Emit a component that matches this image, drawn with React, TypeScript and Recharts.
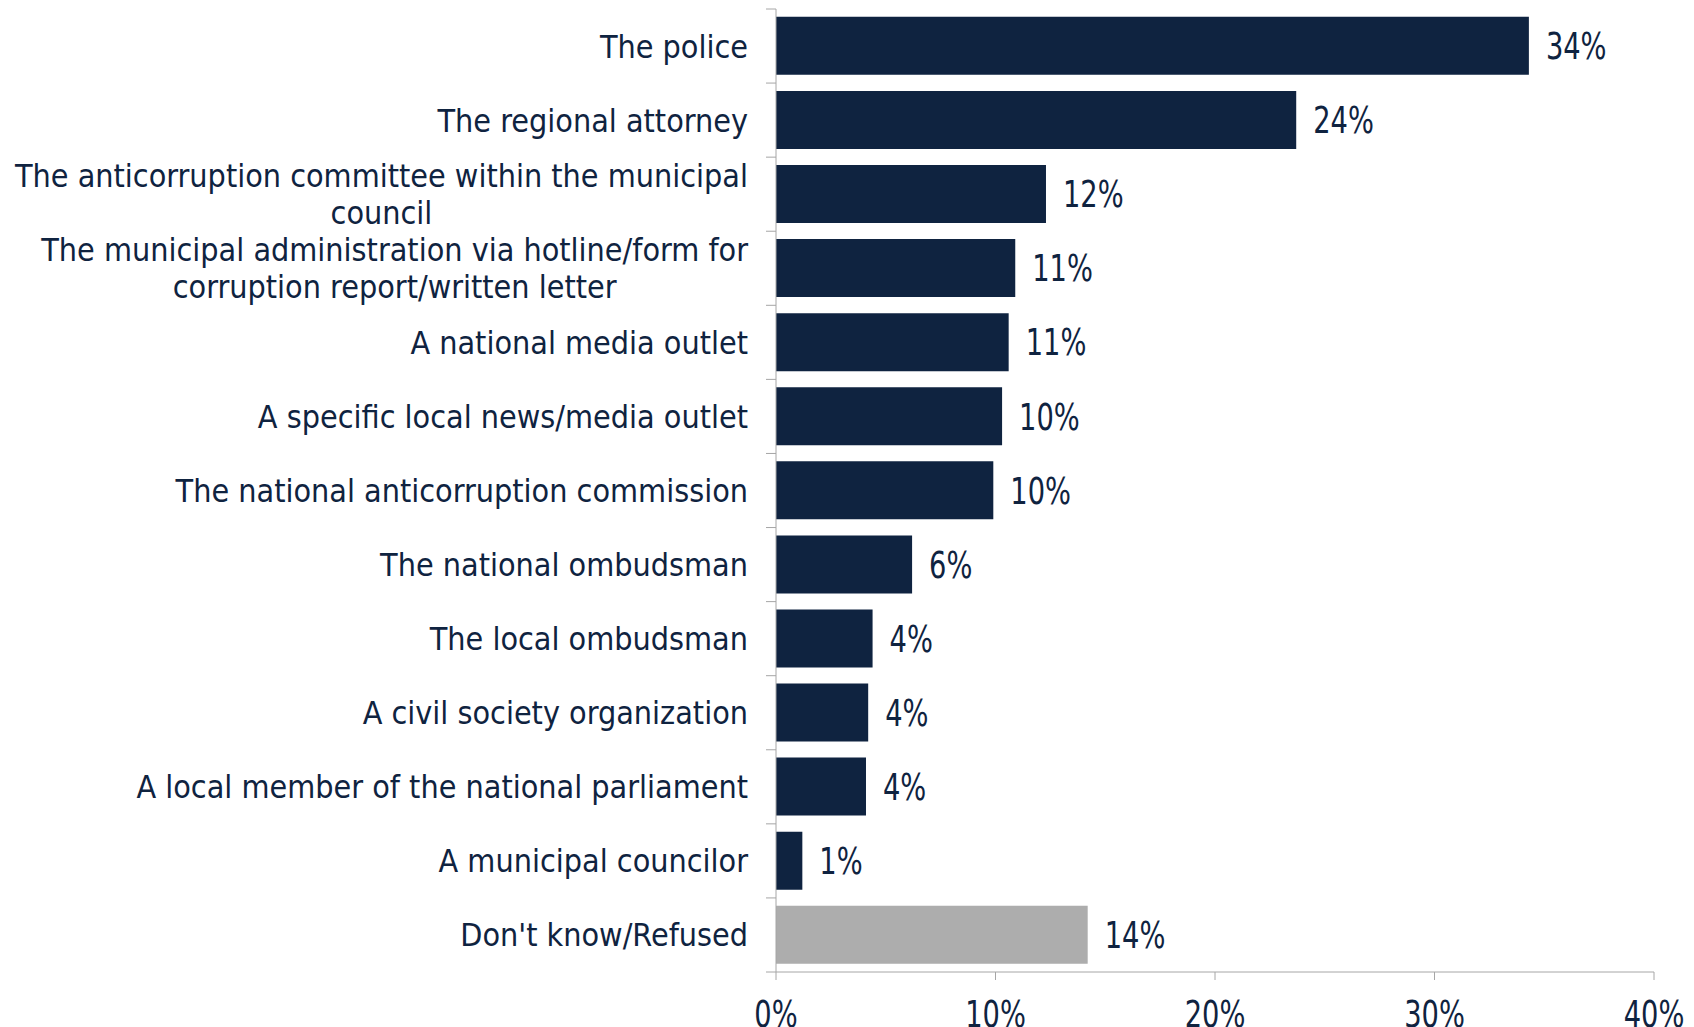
import React from "react";
import { BarChart, Bar, XAxis, YAxis, Cell, LabelList } from "recharts";

const categories = [
  "The police",
  "The regional attorney",
  "The anticorruption committee within the municipal\ncouncil",
  "The municipal administration via hotline/form for\ncorruption report/written letter",
  "A national media outlet",
  "A specific local news/media outlet",
  "The national anticorruption commission",
  "The national ombudsman",
  "The local ombudsman",
  "A civil society organization",
  "A local member of the national parliament",
  "A municipal councilor",
  "Don't know/Refused",
];
const values = [34.3, 23.7, 12.3, 10.9, 10.6, 10.3, 9.9, 6.2, 4.4, 4.2, 4.1, 1.2, 14.2];
const xTicks = [0, 10, 20, 30, 40];
const nonResponse = "Don't know/Refused";

const data = categories.map((c, i) => ({ name: c, value: values[i] }));

const W = 1694;
const H = 1032;
const TOP = 9;
const XAXIS_H = 60;
const BAND = (H - TOP - XAXIS_H) / categories.length;
const NAVY = "#0F2340";
const GRAY = "#ADADAD";
const AXIS = "#A6A6A6";
const CAT_FONT = "DejaVu Sans Condensed";
const CAT_FS = 32;
const NUM_FONT = "DejaVu Sans Condensed";
const NUM_FS = 37;
const NUM_SX = 0.82;

let ctx: CanvasRenderingContext2D | null = null;
function measure(text: string) {
  if (!ctx) ctx = document.createElement("canvas").getContext("2d");
  if (!ctx) return text.length * CAT_FS * 0.5;
  ctx.font = `${CAT_FS}px "${CAT_FONT}"`;
  return ctx.measureText(text).width;
}

function CategoryTick(props: any) {
  const { x, y, payload, index } = props;
  const lines: string[] = String(payload.value).split("\n");
  const maxW = Math.max(...lines.map(measure));
  const right = x - 28;
  const cx = right - maxW / 2;
  const lh = 37;
  const startY = y - ((lines.length - 1) * lh) / 2;
  return (
    <g>
      <line x1={x - 10} x2={x} y1={y - BAND / 2} y2={y - BAND / 2} stroke={AXIS} strokeWidth={1} />
      {index === categories.length - 1 && (
        <line x1={x - 10} x2={x} y1={y + BAND / 2} y2={y + BAND / 2} stroke={AXIS} strokeWidth={1} />
      )}
      <text textAnchor="middle" fill={NAVY} fontFamily={CAT_FONT} fontSize={CAT_FS}>
        {lines.map((l, i) => (
          <tspan key={i} x={cx} y={startY + i * lh} dy="0.36em">
            {l}
          </tspan>
        ))}
      </text>
    </g>
  );
}

function NumTick(props: any) {
  const { x, y, payload } = props;
  return (
    <text
      transform={`translate(${x},${y}) scale(${NUM_SX},1)`}
      x={0}
      y={0}
      dy="0.73em"
      textAnchor="middle"
      fill={NAVY}
      fontFamily={NUM_FONT}
      fontSize={NUM_FS}
    >
      {`${payload.value}%`}
    </text>
  );
}

function ValueLabel(props: any) {
  const { x, y, width, height, value } = props;
  const lx = Number(x) + Number(width) + 17;
  const ly = Number(y) + Number(height) / 2;
  return (
    <text
      transform={`translate(${lx},${ly}) scale(${NUM_SX},1)`}
      x={0}
      y={0}
      dy="0.36em"
      textAnchor="start"
      fill={NAVY}
      fontFamily={NUM_FONT}
      fontSize={NUM_FS}
    >
      {`${Math.round(Number(value))}%`}
    </text>
  );
}

export default function App() {
  return (
    <div style={{ position: "absolute", left: 0, top: 0, background: "#fff" }}>
      <BarChart
        width={W}
        height={H}
        data={data}
        layout="vertical"
        margin={{ top: TOP, right: 40, bottom: 0, left: 0 }}
        barCategoryGap="10.6%"
      >
        <XAxis
          type="number"
          domain={[0, 40]}
          ticks={xTicks}
          axisLine={{ stroke: AXIS }}
          tickLine={{ stroke: AXIS }}
          tickSize={8}
          tickMargin={20}
          height={XAXIS_H}
          interval={0}
          tick={<NumTick />}
        />
        <YAxis
          type="category"
          dataKey="name"
          width={776}
          axisLine={{ stroke: AXIS }}
          tickLine={false}
          tickSize={0}
          tickMargin={0}
          interval={0}
          tick={<CategoryTick />}
        />
        <Bar dataKey="value" isAnimationActive={false}>
          {data.map((d, i) => (
            <Cell key={i} fill={d.name === nonResponse ? GRAY : NAVY} />
          ))}
          <LabelList dataKey="value" content={<ValueLabel />} />
        </Bar>
      </BarChart>
    </div>
  );
}
